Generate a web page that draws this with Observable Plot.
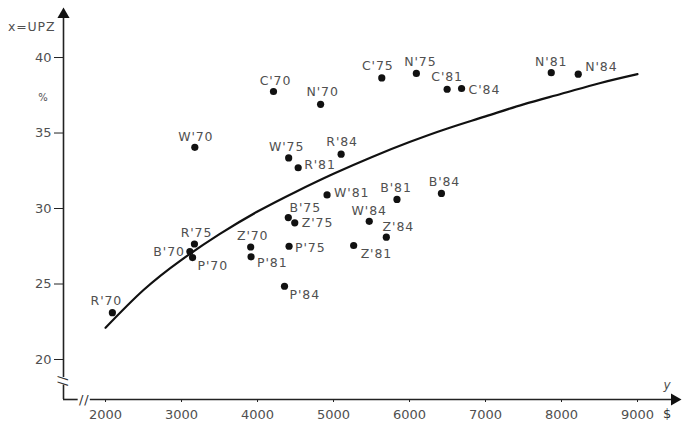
<!DOCTYPE html>
<html>
<head>
<meta charset="utf-8">
<script src="https://cdn.jsdelivr.net/npm/d3@7"></script>
<script src="https://cdn.jsdelivr.net/npm/@observablehq/plot@0.6"></script>
<style>
  html, body { margin: 0; padding: 0; background: #fff; }
  #chart { width: 683px; height: 426px; }
  #chart g[aria-label="text"] { letter-spacing: 0.9px; }
</style>
</head>
<body>
<div id="chart"></div>
<script>
// ---- data ----
const names = ["R'70", "B'70", "R'75", "P'70", "Z'70", "P'81", "P'84", "P'75", "B'75", "Z'75",
  "Z'81", "W'84", "Z'84", "B'81", "B'84", "W'81", "W'75", "R'81", "R'84", "C'70",
  "N'70", "C'75", "N'75", "C'81", "C'84", "N'81", "N'84", "W'70"];
const income = [2090, 3110, 3170, 3145, 3910, 3915, 4355, 4415, 4405, 4490,
  5265, 5470, 5695, 5835, 6420, 4915, 4410, 4535, 5100, 4210,
  4830, 5635, 6090, 6495, 6685, 7865, 8220, 3175];
const upz = [23.1, 27.15, 27.65, 26.75, 27.45, 26.8, 24.85, 27.5, 29.4, 29.05,
  27.55, 29.15, 28.1, 30.6, 31.0, 30.9, 33.35, 32.7, 33.6, 37.75,
  36.9, 38.65, 38.95, 37.9, 37.95, 39.0, 38.9, 34.05];

// fitted trend curve, read at 500 $ steps
const curveX = [2000, 2500, 3000, 3500, 4000, 4500, 5000, 5500, 6000, 6500, 7000, 7500, 8000, 8500, 9000];
const curveY = [22.1, 24.6, 26.6, 28.3, 29.8, 31.1, 32.3, 33.4, 34.4, 35.3, 36.1, 36.9, 37.6, 38.3, 38.9];

const xTicks = [2000, 3000, 4000, 5000, 6000, 7000, 8000, 9000];
const yTicks = [20, 25, 30, 35, 40];

// ---- label placement (style, not data): [dx, dy, anchor] ----
const place = [
  [-6, -12, "middle"], [-5, 0, "end"], [2, -11, "middle"], [5, 8, "start"], [2, -11, "middle"],
  [6, 6, "start"], [5, 9, "start"], [6, 2, "start"], [17, -10, "middle"], [7, 0, "start"],
  [7, 8, "start"], [0, -10, "middle"], [12, -10, "middle"], [-1, -11, "middle"], [3, -11, "middle"],
  [7, -2, "start"], [-2, -11, "middle"], [6, -3, "start"], [1, -12, "middle"], [2, -11, "middle"],
  [2, -12, "middle"], [-4, -12, "middle"], [4, -11, "middle"], [0, -12, "middle"], [7, 2, "start"],
  [0, -11, "middle"], [7, -7, "start"], [1, -10, "middle"]
];

const pts = names.map((n, i) => ({name: n, x: income[i], y: upz[i]}));
const curve = curveX.map((x, i) => ({x, y: curveY[i]}));

const xDom = [1447, 9592];
const yDom = [17.35, 43.38];
const yBreakLo = 18.3, yBreakHi = 18.8;
const xBreakLo = 1640, xBreakHi = 1800;

const font = "DejaVu Sans";
const grey = "#505050";

const labelMarks = pts.map((d, i) => Plot.text([d], {
  x: "x", y: "y", text: "name",
  dx: place[i][0], dy: place[i][1], textAnchor: place[i][2],
  fontSize: 12.5, fill: grey
}));

const chart = Plot.plot({
  width: 683,
  height: 426,
  marginLeft: 63,
  marginRight: 1,
  marginTop: 6,
  marginBottom: 27,
  style: {fontFamily: font, fontSize: "12px", color: grey, background: "#fff"},
  x: {domain: xDom},
  y: {domain: yDom},
  marks: [
    // axis lines with breaks
    Plot.ruleX([xDom[0]], {y1: yDom[0], y2: yBreakLo, stroke: "#222", strokeWidth: 1.6}),
    Plot.ruleX([xDom[0]], {y1: yBreakHi, y2: yDom[1] - 0.6, stroke: "#222", strokeWidth: 1.6}),
    Plot.ruleY([yDom[0]], {x1: xDom[0], x2: xBreakLo, stroke: "#222", strokeWidth: 1.6}),
    Plot.ruleY([yDom[0]], {x1: xBreakHi, x2: xDom[1] - 60, stroke: "#222", strokeWidth: 1.6}),
    // arrow heads
    Plot.dot([{x: xDom[0], y: yDom[1]}], {x: "x", y: "y", symbol: "triangle", r: 4.5, fill: "#111", dy: 8}),
    Plot.dot([{x: xDom[1], y: yDom[0]}], {x: "x", y: "y", symbol: "triangle", r: 4.5, fill: "#111", dx: -8, rotate: 90}),
    // break marks
    Plot.text([{x: xDom[0], y: (yBreakLo + yBreakHi) / 2}], {x: "x", y: "y", text: () => "//", rotate: 90, fontSize: 13, fill: "#333"}),
    Plot.text([{x: (xBreakLo + xBreakHi) / 2, y: yDom[0]}], {x: "x", y: "y", text: () => "//", fontSize: 13, fill: "#333"}),
    // axes
    Plot.axisY({ticks: yTicks, tickSize: 9, tickPadding: 3, label: null, fontSize: 13, stroke: "#222"}),
    Plot.axisX({ticks: xTicks, tickSize: 3, tickPadding: 7, label: null, fontSize: 13, tickFormat: d => String(d), stroke: "#222"}),
    // axis titles / units
    Plot.text([{x: xDom[0], y: yDom[1]}], {x: "x", y: "y", text: () => "x=UPZ", dx: -8, dy: 20, textAnchor: "end", fontSize: 12.5, fill: grey}),
    Plot.text([{x: xDom[0], y: 40}], {x: "x", y: "y", text: () => "%", dx: -20, dy: 40, fontSize: 10, fill: grey}),
    Plot.text([{x: xDom[1], y: yDom[0]}], {x: "x", y: "y", text: () => "y", dx: -15, dy: -14, fontSize: 12, fontStyle: "italic", fill: grey}),
    Plot.text([{x: xDom[1], y: yDom[0]}], {x: "x", y: "y", text: () => "$", dx: -15, dy: 14, fontSize: 13, fill: "#333"}),
    // trend curve
    Plot.line(curve, {x: "x", y: "y", curve: "natural", stroke: "#111", strokeWidth: 2.2}),
    // points
    Plot.dot(pts, {x: "x", y: "y", r: 3.6, fill: "#111"}),
    ...labelMarks
  ]
});
document.getElementById("chart").appendChild(chart);
</script>
</body>
</html>
